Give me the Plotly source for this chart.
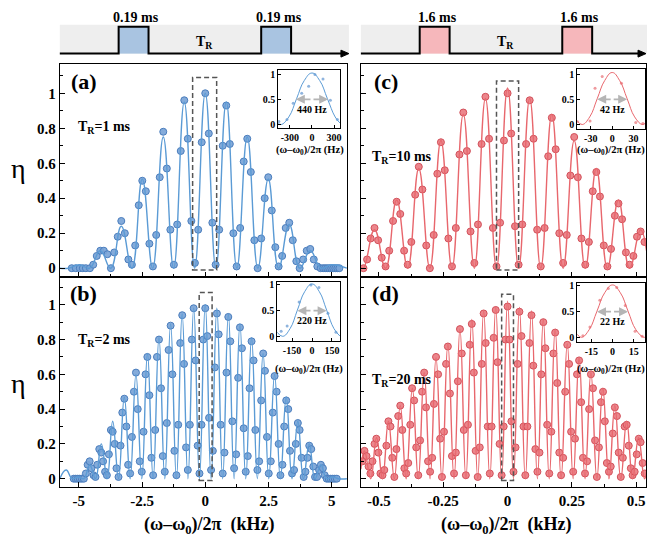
import plotly.graph_objects as go

W, H = 649, 541
def PX(x): return x / W
def PY(y): return 1 - y / H

FONT = "Liberation Serif, Times New Roman, serif"
BLUE_LINE = "#5b9bd5"
BLUE_FILL = "rgba(122,164,215,0.92)"
BLUE_EDGE = "#4a7dbd"
RED_LINE = "#e8676d"
RED_FILL = "rgba(234,124,130,0.92)"
RED_EDGE = "#d2505a"

# ---------------- panel (a): T_R = 1 ms (kHz, eta) ----------------
a_pts_x = [-5.28, -5.12, -4.96, -4.84, -4.72,
           -4.56, -4.43, -4.29, -4.15, -4.01, -3.87, -3.73, -3.60, -3.46, -3.32,
           -3.18, -3.04, -2.90, -2.77, -2.63, -2.49, -2.35, -2.21, -2.07, -1.94,
           -1.80, -1.66, -1.52, -1.38, -1.24, -1.11, -0.97, -0.83, -0.69, -0.55,
           -0.41, -0.28, -0.14, 0.0, 0.14, 0.28, 0.41, 0.55, 0.69, 0.83,
           0.97, 1.11, 1.24, 1.38, 1.52, 1.66, 1.80, 1.94, 2.07, 2.21,
           2.35, 2.49, 2.63, 2.77, 2.90, 3.04, 3.18, 3.32, 3.46, 3.60,
           3.73, 3.87, 4.01, 4.15, 4.29, 4.43, 4.56,
           4.66, 4.74, 4.82, 4.90, 4.98, 5.06, 5.14, 5.22, 5.30]
a_pts_y = [0, 0, 0, 0, 0,
           0.0, 0.02, 0.07, 0.1, 0.1, 0.08, 0.0, 0.09, 0.18, 0.27,
           0.2, 0.05, 0.02, 0.13, 0.36, 0.5, 0.44, 0.14, 0.01, 0.19,
           0.52, 0.78, 0.57, 0.22, 0.02, 0.25, 0.67, 0.96, 0.74, 0.27,
           0.03, 0.22, 0.72, 1.0, 0.77, 0.26, 0.02, 0.22, 0.7, 0.93,
           0.71, 0.2, 0.01, 0.23, 0.61, 0.74, 0.55, 0.16, 0.0, 0.17,
           0.4, 0.52, 0.33, 0.12, 0.01, 0.07, 0.23, 0.26, 0.16, 0.04,
           0.0, 0.05, 0.1, 0.11, 0.05, 0.01, 0.0,
           0, 0, 0, 0, 0, 0, 0, 0, 0]
a_fit_x = [-5.75, -5.4, -4.98, -4.57, -4.15, -3.74, -3.32, -2.9, -2.49, -2.08, -1.66, -1.25, -0.83, -0.42,
           0, 0.42, 0.83, 1.25, 1.66, 2.08, 2.49, 2.9, 3.32, 3.74, 4.15, 4.57, 4.98, 5.6]
a_fit_y = [0, 0, 0.02, 0, 0.1, 0, 0.24, 0, 0.51, 0, 0.75, 0, 0.95, 0,
           1.0, 0, 0.95, 0, 0.75, 0, 0.51, 0, 0.25, 0, 0.1, 0, 0.02, 0]

# ---------------- panel (b): T_R = 2 ms ----------------
b_pts_x = [-5.20, -5.12, -5.04, -4.96, -4.88,
           -4.80, -4.72, -4.65, -4.57, -4.50, -4.42, -4.34, -4.27, -4.19, -4.11,
           -4.04, -3.96, -3.89, -3.81, -3.73, -3.66, -3.58, -3.51, -3.43, -3.35,
           -3.28, -3.20, -3.12, -3.05, -2.97, -2.90, -2.82, -2.74, -2.67, -2.59,
           -2.51, -2.44, -2.36, -2.29, -2.21, -2.13, -2.06, -1.98, -1.91, -1.83,
           -1.75, -1.68, -1.60, -1.52, -1.45, -1.37, -1.30, -1.22, -1.14, -1.07,
           -0.99, -0.91, -0.84, -0.76, -0.69, -0.61, -0.53, -0.46, -0.38, -0.30,
           -0.23, -0.15, -0.08,
           0.00, 0.08, 0.15, 0.23, 0.30, 0.38, 0.46, 0.53, 0.61, 0.69,
           0.76, 0.84, 0.91, 0.99, 1.07, 1.14, 1.22, 1.30, 1.37, 1.45,
           1.52, 1.60, 1.68, 1.75, 1.83, 1.91, 1.98, 2.06, 2.13, 2.21,
           2.29, 2.36, 2.44, 2.51, 2.59, 2.67, 2.74, 2.82, 2.90, 2.97,
           3.05, 3.12, 3.20, 3.28, 3.35, 3.43, 3.51, 3.58, 3.66, 3.73,
           3.81, 3.89, 3.96, 4.04, 4.11, 4.19, 4.27, 4.34, 4.42, 4.50,
           4.57, 4.65, 4.72, 4.80,
           4.88, 4.96, 5.04, 5.12, 5.20]
b_pts_y = [0, 0, 0, 0, 0,
           0.0, 0.03, 0.08, 0.1, 0.06, 0.02, 0.01, 0.08, 0.17, 0.15,
           0.1, 0.04, 0.02, 0.14, 0.28, 0.27, 0.2, 0.06, 0.01, 0.19,
           0.38, 0.46, 0.3, 0.08, 0.03, 0.24, 0.5, 0.61, 0.4, 0.1,
           0.04, 0.27, 0.6, 0.7, 0.48, 0.12, 0.02, 0.28, 0.7, 0.8,
           0.52, 0.13, 0.04, 0.32, 0.74, 0.88, 0.6, 0.16, 0.02, 0.31,
           0.78, 0.94, 0.66, 0.18, 0.05, 0.31, 0.8, 0.98, 0.68, 0.19,
           0.03, 0.31, 0.8,
           0.98, 0.82, 0.35, 0.05, 0.16, 0.64, 0.95, 0.83, 0.31, 0.03,
           0.15, 0.61, 0.93, 0.79, 0.33, 0.06, 0.14, 0.58, 0.87, 0.75,
           0.29, 0.04, 0.13, 0.52, 0.79, 0.68, 0.28, 0.05, 0.1, 0.45,
           0.72, 0.62, 0.24, 0.03, 0.1, 0.38, 0.59, 0.5, 0.2, 0.02,
           0.08, 0.3, 0.45, 0.4, 0.16, 0.03, 0.05, 0.2, 0.32, 0.28,
           0.12, 0.01, 0.04, 0.12, 0.19, 0.17, 0.07, 0.01, 0.01, 0.05,
           0.08, 0.06, 0.02, 0.0,
           0, 0, 0, 0, 0]
b_fit_x = [-5.75, -5.5, -5.26, -5.03, -4.8, -4.57, -4.34, -4.11, -3.88, -3.66, -3.43, -3.2, -2.97,
           -2.74, -2.51, -2.285, -2.06, -1.83, -1.6, -1.37, -1.14, -0.914, -0.686, -0.457, -0.23,
           0, 0.23, 0.457, 0.686, 0.914, 1.14, 1.37, 1.6, 1.83, 2.06, 2.285, 2.51, 2.74, 2.97,
           3.2, 3.43, 3.66, 3.88, 4.11, 4.34, 4.57, 4.8, 5.03, 5.26, 5.6]
b_fit_y = [0, 0.05, 0, 0.01, 0, 0.08, 0, 0.2, 0, 0.33, 0, 0.47, 0,
           0.6, 0, 0.72, 0, 0.81, 0, 0.89, 0, 0.947, 0, 0.98, 0,
           1.0, 0, 0.98, 0, 0.947, 0, 0.89, 0, 0.81, 0, 0.72, 0, 0.6, 0,
           0.47, 0, 0.33, 0, 0.2, 0, 0.08, 0, 0.01, 0, 0]

# ---------------- panel (c): T_R = 10 ms ----------------
c_pts_x = [-0.560, -0.546, -0.532, -0.517, -0.503, -0.489, -0.474, -0.460, -0.445, -0.431,
           -0.417, -0.402, -0.388, -0.374, -0.359, -0.345, -0.331, -0.316, -0.302, -0.287,
           -0.273, -0.259, -0.244, -0.230, -0.216, -0.201, -0.187, -0.172, -0.158, -0.144,
           -0.129, -0.115, -0.101, -0.086, -0.072, -0.057, -0.043, -0.029, -0.014,
           0.0,
           0.014, 0.029, 0.043, 0.057, 0.072, 0.086, 0.101, 0.115, 0.129, 0.144,
           0.158, 0.172, 0.187, 0.201, 0.216, 0.230, 0.244, 0.259, 0.273, 0.287,
           0.302, 0.316, 0.331, 0.345, 0.359, 0.374, 0.388, 0.402, 0.417, 0.431,
           0.445, 0.460, 0.474, 0.489, 0.503, 0.517, 0.532]
c_pts_y = [0.0, 0.05, 0.17, 0.23, 0.16, 0.06, 0.01, 0.1, 0.27, 0.38,
           0.31, 0.1, 0.02, 0.15, 0.42, 0.58, 0.45, 0.13, 0.0, 0.19,
           0.54, 0.72, 0.56, 0.17, 0.01, 0.23, 0.65, 0.89, 0.67, 0.21,
           0.03, 0.25, 0.71, 0.98, 0.74, 0.23, 0.01, 0.26, 0.73,
           1.0,
           0.77, 0.24, 0.02, 0.25, 0.71, 0.96, 0.74, 0.22, 0.01, 0.23,
           0.64, 0.86, 0.68, 0.2, 0.03, 0.19, 0.53, 0.75, 0.52, 0.17,
           0.02, 0.15, 0.44, 0.55, 0.41, 0.13, 0.01, 0.11, 0.3, 0.37,
           0.28, 0.09, 0.02, 0.07, 0.18, 0.21, 0.15]
c_fit_x = [-0.57, -0.56, -0.517, -0.474, -0.431, -0.388, -0.345, -0.302, -0.259, -0.216, -0.172, -0.129,
           -0.086, -0.043, 0, 0.043, 0.086, 0.129, 0.172, 0.216, 0.259, 0.302, 0.345, 0.388, 0.431,
           0.474, 0.517, 0.54]
c_fit_y = [0.005, 0, 0.22, 0, 0.39, 0, 0.57, 0, 0.73, 0, 0.88, 0,
           0.97, 0, 1.03, 0, 0.97, 0, 0.88, 0, 0.73, 0, 0.57, 0, 0.39,
           0, 0.22, 0.1]

# ---------------- panel (d): T_R = 20 ms ----------------
d_pts_x = [-0.564, -0.556, -0.548, -0.540, -0.533, -0.525, -0.517, -0.510, -0.502, -0.494,
           -0.486, -0.479, -0.471, -0.463, -0.455, -0.448, -0.440, -0.432, -0.425, -0.417,
           -0.409, -0.401, -0.394, -0.386, -0.378, -0.371, -0.363, -0.355, -0.347, -0.340,
           -0.332, -0.324, -0.317, -0.309, -0.301, -0.293, -0.286, -0.278, -0.270, -0.262,
           -0.255, -0.247, -0.239, -0.232, -0.224, -0.216, -0.208, -0.201, -0.193, -0.185,
           -0.178, -0.170, -0.162, -0.154, -0.147, -0.139, -0.131, -0.124, -0.116, -0.108,
           -0.100, -0.093, -0.085, -0.077, -0.069, -0.062, -0.054, -0.046, -0.039, -0.031,
           -0.023, -0.015, -0.008,
           0.0, 0.008, 0.015, 0.023, 0.031, 0.039, 0.046, 0.054, 0.062, 0.069,
           0.077, 0.085, 0.093, 0.100, 0.108, 0.116, 0.124, 0.131, 0.139, 0.147,
           0.154, 0.162, 0.170, 0.178, 0.185, 0.193, 0.201, 0.208, 0.216, 0.224,
           0.232, 0.239, 0.247, 0.255, 0.262, 0.270, 0.278, 0.286, 0.293, 0.301,
           0.309, 0.317, 0.324, 0.332, 0.340, 0.347, 0.355, 0.363, 0.371, 0.378,
           0.386, 0.394, 0.401, 0.409, 0.417, 0.425, 0.432, 0.440, 0.448, 0.455,
           0.463, 0.471, 0.479, 0.486, 0.494, 0.502, 0.510, 0.517, 0.525, 0.533]
d_pts_y = [0.1, 0.16, 0.13, 0.07, 0.03,
           0.1, 0.2, 0.23, 0.15, 0.03, 0.02,
           0.05, 0.19, 0.33, 0.3, 0.12, 0.01,
           0.17, 0.36, 0.42, 0.28, 0.06, 0.03,
           0.09, 0.31, 0.52, 0.45, 0.18, 0.02,
           0.22, 0.5, 0.61, 0.41, 0.1, 0.04,
           0.12, 0.43, 0.7, 0.6, 0.23, 0.01,
           0.27, 0.66, 0.76, 0.49, 0.13, 0.03,
           0.15, 0.56, 0.86, 0.72, 0.28, 0.02,
           0.31, 0.77, 0.89, 0.61, 0.16, 0.01,
           0.18, 0.66, 0.95, 0.78, 0.3, 0.03,
           0.3, 0.81, 0.97, 0.67, 0.2, 0.02,
           0.3, 0.8,
           0.99, 0.8, 0.33, 0.04,
           0.18, 0.66, 0.96, 0.82, 0.3, 0.02,
           0.3, 0.78, 0.94, 0.65, 0.17, 0.04,
           0.15, 0.6, 0.9, 0.75, 0.31, 0.03,
           0.27, 0.72, 0.84, 0.55, 0.15, 0.02,
           0.12, 0.5, 0.77, 0.66, 0.27, 0.04,
           0.23, 0.6, 0.68, 0.44, 0.12, 0.03,
           0.1, 0.4, 0.6, 0.52, 0.22, 0.01,
           0.18, 0.44, 0.5, 0.33, 0.09, 0.04,
           0.07, 0.26, 0.41, 0.36, 0.15, 0.01,
           0.12, 0.3, 0.31, 0.19, 0.06, 0.02,
           0.04, 0.14, 0.23, 0.21, 0.09, 0.03]
d_fit_x = [-0.57, -0.556, -0.532, -0.509, -0.486, -0.463, -0.44, -0.417, -0.394, -0.37, -0.347, -0.324,
           -0.301, -0.278, -0.255, -0.232, -0.208, -0.185, -0.162, -0.139, -0.116, -0.093, -0.069,
           -0.046, -0.023, 0, 0.023, 0.046, 0.069, 0.093, 0.116, 0.139, 0.162, 0.185, 0.208, 0.232,
           0.255, 0.278, 0.301, 0.324, 0.347, 0.37, 0.394, 0.417, 0.44, 0.463, 0.486, 0.509, 0.532, 0.54]
d_fit_y = [0.055, 0.16, 0, 0.235, 0, 0.33, 0, 0.42, 0, 0.52, 0, 0.61,
           0, 0.695, 0, 0.775, 0, 0.86, 0, 0.915, 0, 0.965, 0,
           0.985, 0, 1.02, 0, 0.985, 0, 0.965, 0, 0.915, 0, 0.86, 0, 0.775,
           0, 0.695, 0, 0.61, 0, 0.52, 0, 0.42, 0, 0.33, 0, 0.235, 0, 0.035]

# ---------------- insets (Hz, eta) ----------------
ina_pts_x = [-450, -340, -255, -140, -45, 40, 150, 250, 345]
ina_pts_y = [0.06, 0.1, 0.42, 0.62, 0.76, 0.99, 0.9, 0.48, 0.1]
ina_fit_x = [-460, -420, -315, -210, -105, 0, 105, 210, 315, 380]
ina_fit_y = [0.03, 0.0, 0.15, 0.51, 0.87, 1.02, 0.87, 0.51, 0.15, 0.03]

inb_pts_x = [-232, -187, -97, -8, 52, 120, 180]
inb_pts_y = [0.1, 0.2, 0.67, 1.0, 0.95, 0.45, 0.08]
inb_fit_x = [-262, -220, -165, -110, -55, 0, 55, 110, 165, 210]
inb_fit_y = [0.08, 0.0, 0.15, 0.51, 0.87, 1.02, 0.87, 0.51, 0.15, 0.005]

inc_pts_x = [-49, -31, -24, -14, 13, 33, 43]
inc_pts_y = [0.06, 0.07, 0.72, 0.95, 0.82, 0.04, 0.02]
inc_fit_x = [-49, -42, -31.5, -21, -10.5, 0, 10.5, 21, 31.5, 42, 46]
inc_fit_y = [0.07, 0.0, 0.15, 0.51, 0.87, 1.03, 0.87, 0.51, 0.15, 0.0, 0.02]

ind_pts_x = [-21, -16, -9, -3, 3, 9, 16, 21]
ind_pts_y = [0.03, 0.2, 0.72, 0.95, 0.97, 0.62, 0.12, 0.02]
ind_fit_x = [-25, -22, -16.5, -11, -5.5, 0, 5.5, 11, 16.5, 22, 23]
ind_fit_y = [0.06, 0.0, 0.15, 0.51, 0.87, 1.02, 0.87, 0.51, 0.15, 0.0, 0.005]

fwhm_labels = ["440 Hz", "220 Hz", "42 Hz", "22 Hz"]
fwhm_half = [220, 110, 21, 11]

for xs, ys in [(a_pts_x, a_pts_y), (b_pts_x, b_pts_y), (c_pts_x, c_pts_y), (d_pts_x, d_pts_y),
               (a_fit_x, a_fit_y), (b_fit_x, b_fit_y), (c_fit_x, c_fit_y), (d_fit_x, d_fit_y)]:
    assert len(xs) == len(ys), (len(xs), len(ys))

fig = go.Figure()

def add_panel(px, py, fx, fy, xa, ya, fill, edge, linec, msize=7, lw=1.4, edgew=1):
    fig.add_trace(go.Scatter(x=px, y=py, mode="markers", xaxis=xa, yaxis=ya, hoverinfo="skip",
                             marker=dict(size=msize, color=fill, line=dict(color=edge, width=edgew))))
    fig.add_trace(go.Scatter(x=fx, y=fy, mode="lines", xaxis=xa, yaxis=ya, hoverinfo="skip",
                             line=dict(color=linec, width=lw, shape="spline", smoothing=1.3)))

add_panel(a_pts_x, a_pts_y, a_fit_x, a_fit_y, "x", "y", BLUE_FILL, BLUE_EDGE, BLUE_LINE)
add_panel(b_pts_x, b_pts_y, b_fit_x, b_fit_y, "x2", "y2", BLUE_FILL, BLUE_EDGE, BLUE_LINE)
add_panel(c_pts_x, c_pts_y, c_fit_x, c_fit_y, "x3", "y3", RED_FILL, RED_EDGE, RED_LINE)
add_panel(d_pts_x, d_pts_y, d_fit_x, d_fit_y, "x4", "y4", RED_FILL, RED_EDGE, RED_LINE)
add_panel(ina_pts_x, ina_pts_y, ina_fit_x, ina_fit_y, "x5", "y5", "#8fb4de", "#8fb4de", BLUE_LINE, 3, 1, 0)
add_panel(inb_pts_x, inb_pts_y, inb_fit_x, inb_fit_y, "x6", "y6", "#8fb4de", "#8fb4de", BLUE_LINE, 3, 1, 0)
add_panel(inc_pts_x, inc_pts_y, inc_fit_x, inc_fit_y, "x7", "y7", "#ef9a9e", "#ef9a9e", RED_LINE, 3, 1, 0)
add_panel(ind_pts_x, ind_pts_y, ind_fit_x, ind_fit_y, "x8", "y8", "#ef9a9e", "#ef9a9e", RED_LINE, 3, 1, 0)

def axis(domain, rng, anchor, tickvals=None, ticktext=None, showlabels=True, minor=None,
         fsize=15, ticklen=5):
    d = dict(domain=domain, range=rng, anchor=anchor, showline=True, mirror=True,
             linecolor="black", linewidth=1, zeroline=False, showgrid=False,
             ticks="inside", ticklen=ticklen, tickcolor="black", tickwidth=1,
             showticklabels=showlabels,
             tickfont=dict(family=FONT, size=fsize, color="black", weight="bold"))
    if tickvals is not None:
        d.update(tickmode="array", tickvals=tickvals, ticktext=ticktext)
    if minor is not None:
        d["minor"] = dict(tickmode="linear", tick0=0, dtick=minor, ticks="inside",
                          ticklen=3, tickcolor="black", tickwidth=1)
    return d

LX = [PX(60), PX(348)]
RX = [PX(362), PX(648)]
TOPY = [PY(277), PY(62)]
BOTY = [PY(489), PY(277)]
yv = [0, 0.2, 0.4, 0.6, 0.8, 1.0]
yt = ["0", "0.2", "0.4", "0.6", "0.8", "1"]
kx = [-5, -2.5, 0, 2.5, 5]
kt = ["-5", "-2.5", "0", "2.5", "5"]
hx = [-0.5, -0.25, 0, 0.25, 0.5]
ht = ["-0.5", "-0.25", "0", "0.25", "0.5"]

layout = dict(
    width=W, height=H, autosize=False,
    margin=dict(l=0, r=0, t=0, b=0, pad=0),
    paper_bgcolor="white", plot_bgcolor="white", showlegend=False,
    xaxis=axis(LX, [-5.75, 5.6], "y", kx, kt, False, 1.25),
    yaxis=axis(TOPY, [-0.05, 1.17], "x", yv, yt, True, 0.1),
    xaxis2=axis(LX, [-5.75, 5.6], "y2", kx, kt, True, 1.25),
    yaxis2=axis(BOTY, [-0.05, 1.16], "x2", yv, yt, True, 0.1),
    xaxis3=axis(RX, [-0.57, 0.538], "y3", hx, ht, False, 0.125),
    yaxis3=axis(TOPY, [-0.05, 1.17], "x3", yv, yt, False, 0.1),
    xaxis4=axis(RX, [-0.57, 0.538], "y4", hx, ht, True, 0.125),
    yaxis4=axis(BOTY, [-0.05, 1.16], "x4", yv, yt, False, 0.1),
    xaxis5=axis([PX(279), PX(341)], [-460, 380], "y5", [-300, 0, 300], ["-300", "0", "300"], True, None, 10, 3),
    yaxis5=axis([PY(127), PY(69)], [-0.07, 1.07], "x5", [0, 0.5, 1], ["0", "0.5", "1"], True, None, 10, 3),
    xaxis6=axis([PX(278), PX(341)], [-262, 210], "y6", [-150, 0, 150], ["-150", "0", "150"], True, None, 10, 3),
    yaxis6=axis([PY(342), PY(282)], [-0.1, 1.06], "x6", [0, 0.5, 1], ["0", "0.5", "1"], True, None, 10, 3),
    xaxis7=axis([PX(579), PX(647)], [-49, 46], "y7", [-30, 0, 30], ["-30", "0", "30"], True, None, 10, 3),
    yaxis7=axis([PY(128), PY(68)], [-0.09, 1.09], "x7", [0, 0.5, 1], ["0", "0.5", "1"], True, None, 10, 3),
    xaxis8=axis([PX(579), PX(647)], [-25, 23], "y8", [-15, 0, 15], ["-15", "0", "15"], True, None, 10, 3),
    yaxis8=axis([PY(343), PY(283)], [-0.1, 1.06], "x8", [0, 0.5, 1], ["0", "0.5", "1"], True, None, 10, 3),
)
fig.update_layout(**layout)

shapes = []
# dashed boxes around the central fringe
for xr, yr, x0, x1, y0, y1 in [("x", "y", -0.5, 0.45, -0.01, 1.09),
                               ("x2", "y2", -0.24, 0.27, -0.01, 1.07),
                               ("x3", "y3", -0.043, 0.043, -0.01, 1.07),
                               ("x4", "y4", -0.023, 0.023, -0.01, 1.06)]:
    shapes.append(dict(type="rect", xref=xr, yref=yr, x0=x0, x1=x1, y0=y0, y1=y1,
                       line=dict(color="#555555", width=1.5, dash="5px,3px")))

def ppath(pts, close=False):
    s = "M " + " L ".join(f"{PX(x):.5f},{PY(y):.5f}" for x, y in pts)
    return s + (" Z" if close else "")

# pulse sequence diagrams
for band, pulses, fillc, end in [((60, 350), [(119, 149), (262, 292)], "#a9c4e1", 350),
                                 ((362, 649), [(421, 451), (564, 594)], "#f6b7bb", 648)]:
    shapes.append(dict(type="rect", xref="paper", yref="paper", x0=PX(band[0]), x1=PX(band[1]),
                       y0=PY(52), y1=PY(23), fillcolor="#eeeeee", line=dict(width=0), layer="below"))
    for p0, p1 in pulses:
        shapes.append(dict(type="rect", xref="paper", yref="paper", x0=PX(p0), x1=PX(p1),
                           y0=PY(52), y1=PY(25), fillcolor=fillc, line=dict(width=0)))
    (p0, p1), (q0, q1) = pulses
    pts = [(band[0], 52), (p0, 52), (p0, 25), (p1, 25), (p1, 52), (q0, 52), (q0, 25), (q1, 25),
           (q1, 52), (end - 6, 52)]
    shapes.append(dict(type="path", xref="paper", yref="paper", path=ppath(pts),
                       line=dict(color="black", width=2)))
    shapes.append(dict(type="path", xref="paper", yref="paper",
                       path=ppath([(end - 8, 48.5), (end, 52), (end - 8, 55.5)], True),
                       fillcolor="black", line=dict(color="black", width=1)))
fig.update_layout(shapes=shapes)

ann = []
def txt(x, y, t, size=14, anchor="center", bold=True, family=FONT):
    ann.append(dict(xref="paper", yref="paper", x=PX(x), y=PY(y), text=t, showarrow=False,
                    xanchor=anchor, yanchor="middle",
                    font=dict(family=family, size=size, color="black", weight="bold" if bold else "normal")))

txt(136, 16, "0.19 ms"); txt(280, 16, "0.19 ms")
txt(439, 16, "1.6 ms"); txt(581, 16, "1.6 ms")
txt(205, 41, "T<sub>R</sub>"); txt(507, 41, "T<sub>R</sub>")
txt(84, 80, "(a)", 22); txt(84, 294, "(b)", 22)
txt(387, 80, "(c)", 22); txt(387, 294, "(d)", 22)
txt(76, 126, "T<sub>R</sub>=1 ms", 14, "left")
txt(76, 341, "T<sub>R</sub>=2 ms", 14, "left")
txt(371, 157, "T<sub>R</sub>=10 ms", 14, "left")
txt(371, 381, "T<sub>R</sub>=20 ms", 14, "left")
txt(19, 168, "η", 28, bold=False)
txt(19, 384, "η", 28, bold=False)
txt(210, 527, "(ω–ω<sub>0</sub>)/2π\u00a0\u00a0(kHz)", 18)
txt(508, 527, "(ω–ω<sub>0</sub>)/2π\u00a0\u00a0(kHz)", 18)
txt(311, 150, "(ω–ω<sub>0</sub>)/2π\u00a0(Hz)", 10.5)
txt(310, 370, "(ω–ω<sub>0</sub>)/2π\u00a0(Hz)", 10.5)
txt(613, 150, "(ω–ω<sub>0</sub>)/2π\u00a0(Hz)", 10.5)
txt(613, 370, "(ω–ω<sub>0</sub>)/2π\u00a0(Hz)", 10.5)

for i, (lab, hw) in enumerate(zip(fwhm_labels, fwhm_half)):
    xr, yr = f"x{5 + i}", f"y{5 + i}"
    for sgn in (-1, 1):
        ann.append(dict(xref=xr, yref=yr, axref=xr, ayref=yr, x=sgn * hw, y=0.5, ax=0, ay=0.5,
                        text="", showarrow=True, arrowhead=2, arrowsize=1, arrowwidth=1.8,
                        arrowcolor="#b5b5b5"))
    ann.append(dict(xref=xr, yref=yr, x=0, y=0.3, text=lab, showarrow=False,
                    font=dict(family=FONT, size=10, color="black", weight="bold")))
fig.update_layout(annotations=ann)

fig.write_html("out.html")
